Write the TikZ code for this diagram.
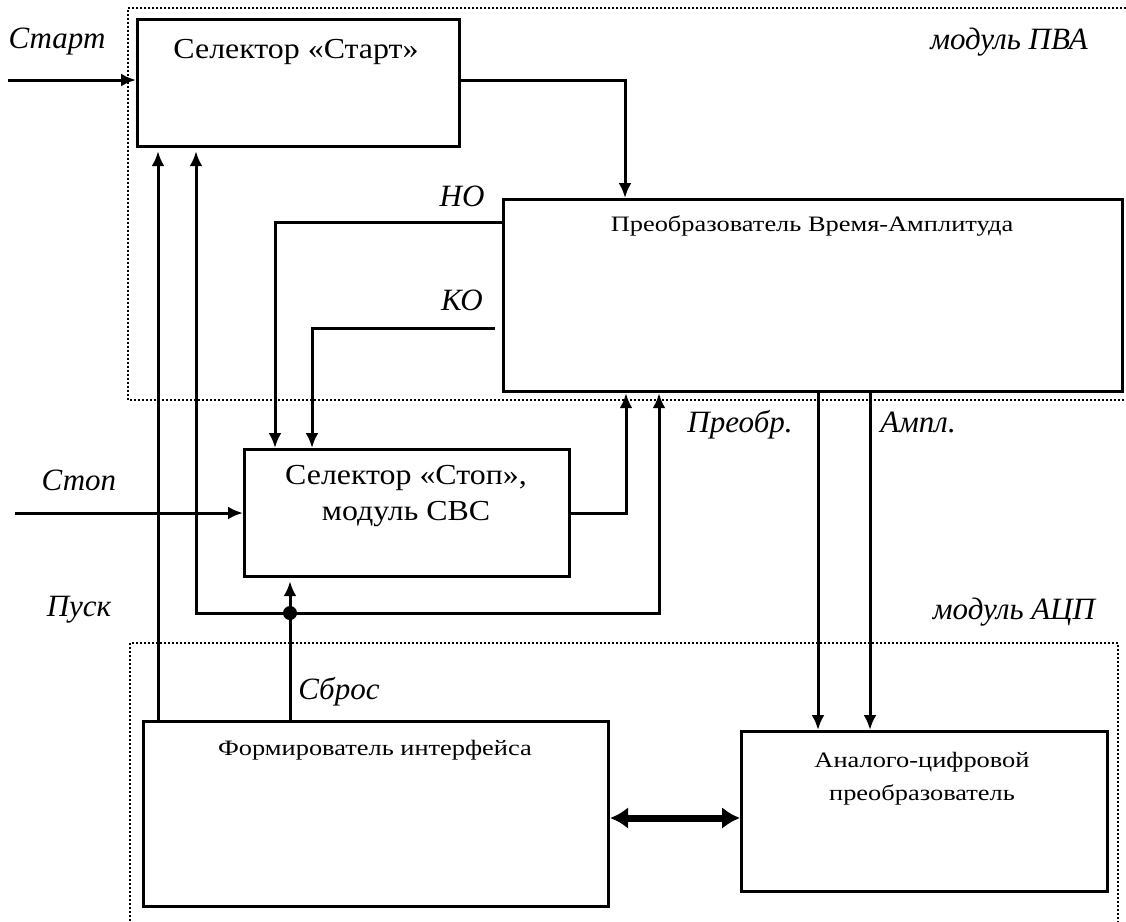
\documentclass[tikz,border=0pt]{standalone}
\usepackage{fontspec}
\setmainfont{Liberation Serif}
\newfontfamily\stretchedfont[FakeStretch=1.2]{Liberation Serif}
\newfontfamily\bigfont[FakeStretch=1.1]{Liberation Serif}
\usetikzlibrary{arrows.meta,calc}
\begin{document}
\begin{tikzpicture}[x=1pt,y=-1pt,
  box/.style={draw,line width=3.2pt,inner sep=0pt,anchor=north west},
  wire/.style={line width=3pt},
  arr/.style={wire,-{Latex[length=15pt,width=13pt]}},
  lbl/.style={font=\fontsize{31}{34}\selectfont\itshape,inner sep=0pt},
  big/.style={font=\bigfont\fontsize{29}{36}\selectfont,inner sep=0pt,align=center},
  small/.style={font=\stretchedfont\fontsize{22}{33}\selectfont,inner sep=0pt,align=center},
  modframe/.style={dotted,line width=2pt}]
\useasboundingbox (0,0) rectangle (1126,921);
% module frames
\draw[modframe] (1130,8) -- (128,8) -- (128,400) -- (1130,400);
\draw[modframe] (130,925) -- (130,643) -- (1118,643) -- (1118,925);
% boxes
\node[box,minimum width=322pt,minimum height=127pt] (ss) at (136,18) {};
\node[box,minimum width=619pt,minimum height=192pt] (pva) at (502,198) {};
\node[box,minimum width=325pt,minimum height=127pt] (stop) at (243,448) {};
\node[box,minimum width=465pt,minimum height=185pt] (ifc) at (142,720) {};
\node[box,minimum width=366pt,minimum height=160pt] (adc) at (740,730) {};
% box texts
\node[big] (tss) at (296,52) {Селектор «Старт»};
\node[small] (tpva) at (812,226) {Преобразователь Время-Амплитуда};
\node[big] (tstop) at (406,496) {Селектор «Стоп»,\\модуль СВС};
\node[small] (tifc) at (375,750) {Формирователь интерфейса};
\node[small] (tadc) at (922,779) {Аналого-цифровой\\преобразователь};
% labels
\node[lbl] (lstart) at (57,42) {Старт};
\node[lbl] (lpva) at (1009,42) {модуль ПВА};
\node[lbl] (lno) at (462,196) {НО};
\node[lbl] (lko) at (462,300) {КО};
\node[lbl] (lpre) at (740,425) {Преобр.};
\node[lbl] (lamp) at (918,422) {Ампл.};
\node[lbl] (lstop) at (79,480) {Стоп};
\node[lbl] (lpusk) at (79,610) {Пуск};
\node[lbl] (lsbros) at (339,692) {Сброс};
\node[lbl] (ladc) at (1014,612) {модуль АЦП};
% helper coordinates
\coordinate (startin) at (8,80);
\coordinate (stopin) at (15,513);
\coordinate (x625) at (625,0);
\coordinate (no) at (0,222);
\coordinate (ko) at (495,328);
\coordinate (x275) at (275,0);
\coordinate (x312) at (312,0);
\coordinate (x626) at (626,0);
\coordinate (x158) at (158,0);
\coordinate (x196) at (196,0);
\coordinate (x290) at (290,0);
\coordinate (x659) at (659,0);
\coordinate (x818) at (818,0);
\coordinate (x870) at (870,0);
\coordinate (jn) at (290,613);
\coordinate (bus) at (0,818);
% connectors
\draw[arr] (startin) -- (startin -| ss.west);
\draw[arr] (ss.east |- startin) -| (x625 |- pva.north);
\draw[arr] (pva.west |- no) -| (x275 |- stop.north);
\draw[arr] (ko) -| (x312 |- stop.north);
\draw[arr] (stop.east |- stopin) -| (x626 |- pva.south);
\draw[arr] (stopin) -- (stop.west |- stopin);
\draw[arr] (x158 |- ifc.north) -- ($(x158 |- ss.south)+(0,3)$);
\draw[arr] (x290 |- ifc.north) -- ($(x290 |- stop.south)+(0,3)$);
\draw[arr] (jn) -| ($(x196 |- ss.south)+(0,3)$);
\draw[arr] (jn) -| (x659 |- pva.south);
\fill (jn) circle (7pt);
\draw[arr] (x818 |- pva.south) -- (x818 |- adc.north);
\draw[arr] (x870 |- pva.south) -- (x870 |- adc.north);
\draw[line width=7pt,{Latex[length=18pt,width=22pt]}-{Latex[length=18pt,width=22pt]}] (ifc.east |- bus) -- (adc.west |- bus);
\end{tikzpicture}
\end{document}
